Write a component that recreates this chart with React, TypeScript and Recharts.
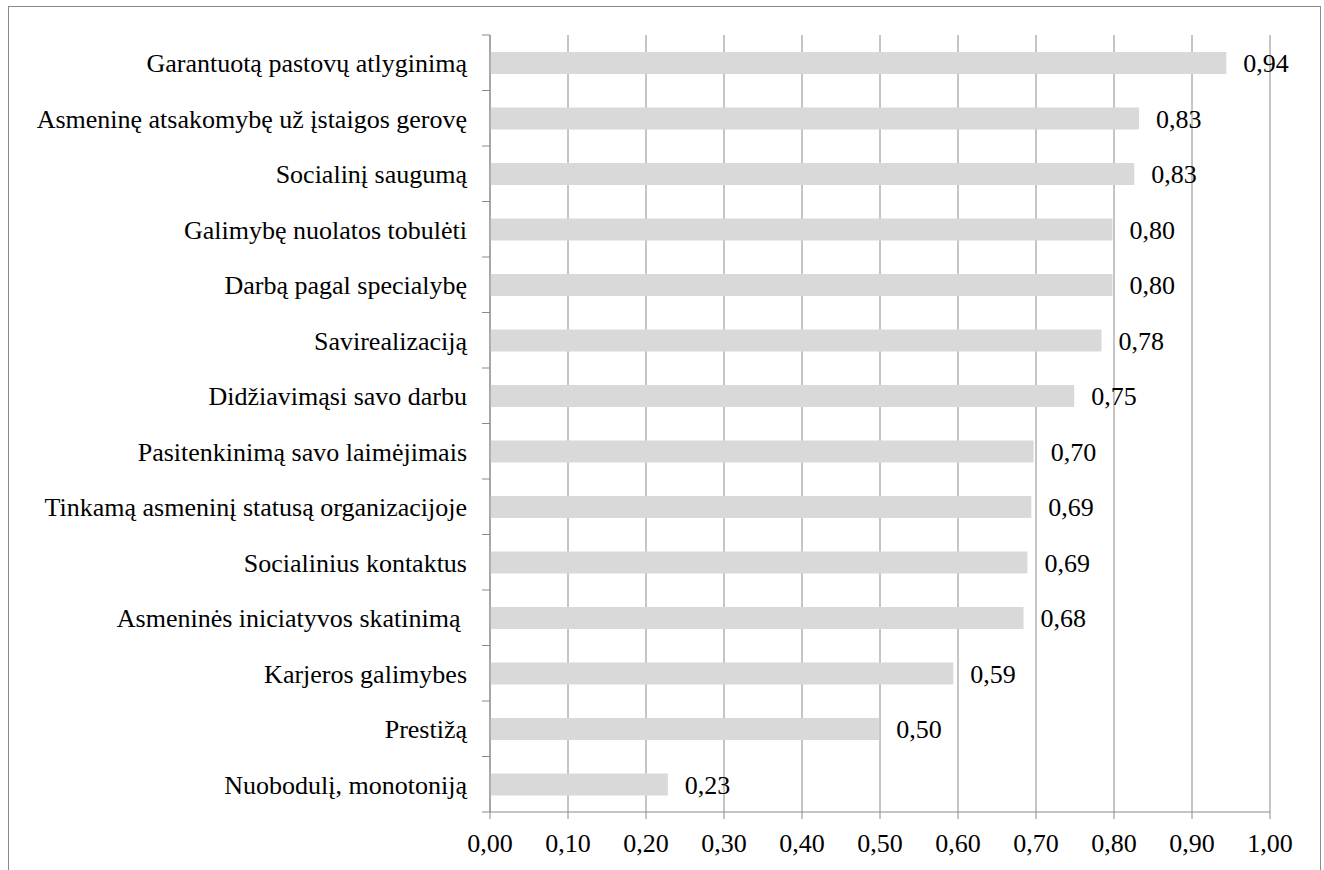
import { BarChart, Bar, XAxis, YAxis, CartesianGrid, LabelList } from "recharts";

const categories = [
  "Garantuotą pastovų atlyginimą",
  "Asmeninę atsakomybę už įstaigos gerovę",
  "Socialinį saugumą",
  "Galimybę nuolatos tobulėti",
  "Darbą pagal specialybę",
  "Savirealizaciją",
  "Didžiavimąsi savo darbu",
  "Pasitenkinimą savo laimėjimais",
  "Tinkamą asmeninį statusą organizacijoje",
  "Socialinius kontaktus",
  "Asmeninės iniciatyvos skatinimą ",
  "Karjeros galimybes",
  "Prestižą",
  "Nuobodulį, monotoniją",
];

const values = [0.944, 0.832, 0.826, 0.798, 0.798, 0.784, 0.749, 0.697, 0.694, 0.689, 0.684, 0.594, 0.499, 0.228];

const xTicks = [0, 0.1, 0.2, 0.3, 0.4, 0.5, 0.6, 0.7, 0.8, 0.9, 1.0];

const data = categories.map((name, i) => ({ name, value: values[i] }));

const FONT = "'Liberation Serif', 'Times New Roman', Times, serif";
const GRAY = "#8a8a8a";
const BAR = "#d9d9d9";

const WIDTH = 1311;
const HEIGHT = 863;
const MARGIN = { top: 28, right: 50, left: 0, bottom: 18 };
const X_AXIS_H = 40;
const Y_AXIS_W = 481;
const Y_TICK_SIZE = 8;
const Y_TICK_MARGIN = 15;
const BAND = (HEIGHT - MARGIN.top - MARGIN.bottom - X_AXIS_H) / categories.length;

const fmt = (v: number) => v.toFixed(2).replace(".", ",");

// category label plus Excel-style tick marks on the band boundaries
function CategoryTick({ x, y, payload, index }: any) {
  const axisX = x + Y_TICK_SIZE + Y_TICK_MARGIN;
  const half = BAND / 2;
  const last = index === categories.length - 1;
  return (
    <g>
      <line x1={axisX - Y_TICK_SIZE} x2={axisX} y1={y - half} y2={y - half} stroke={GRAY} />
      {last && <line x1={axisX - Y_TICK_SIZE} x2={axisX} y1={y + half} y2={y + half} stroke={GRAY} />}
      <text
        x={x}
        y={y}
        dy="0.36em"
        textAnchor="end"
        fill="#000"
        style={{ whiteSpace: "pre", fontFamily: FONT, fontSize: 26 }}
      >
        {payload.value}
      </text>
    </g>
  );
}

export default function App() {
  return (
    <div
      style={{
        position: "fixed",
        left: 8,
        top: 6,
        width: 1313,
        height: 900,
        boxSizing: "border-box",
        border: `1px solid ${GRAY}`,
        background: "#fff",
        fontFamily: FONT,
      }}
    >
      <BarChart
        width={WIDTH}
        height={HEIGHT}
        data={data}
        layout="vertical"
        margin={MARGIN}
        style={{ fontFamily: FONT }}
      >
        <CartesianGrid horizontal={false} stroke={GRAY} strokeWidth={1} />
        <XAxis
          type="number"
          domain={[0, 1]}
          ticks={xTicks}
          tickFormatter={fmt}
          interval={0}
          height={X_AXIS_H}
          stroke={GRAY}
          tickSize={7}
          tickMargin={15}
          tick={{ fill: "#000", fontSize: 26, style: { fontFamily: FONT } }}
        />
        <YAxis
          type="category"
          dataKey="name"
          width={Y_AXIS_W}
          interval={0}
          stroke={GRAY}
          tickLine={false}
          tickSize={Y_TICK_SIZE}
          tickMargin={Y_TICK_MARGIN}
          tick={<CategoryTick />}
        />
        <Bar dataKey="value" fill={BAR} barSize={22} isAnimationActive={false}>
          <LabelList
            dataKey="value"
            position="right"
            offset={17}
            formatter={(v: any) => fmt(Number(v))}
            fill="#000"
            fontSize={26}
            style={{ fontFamily: FONT }}
          />
        </Bar>
      </BarChart>
    </div>
  );
}
